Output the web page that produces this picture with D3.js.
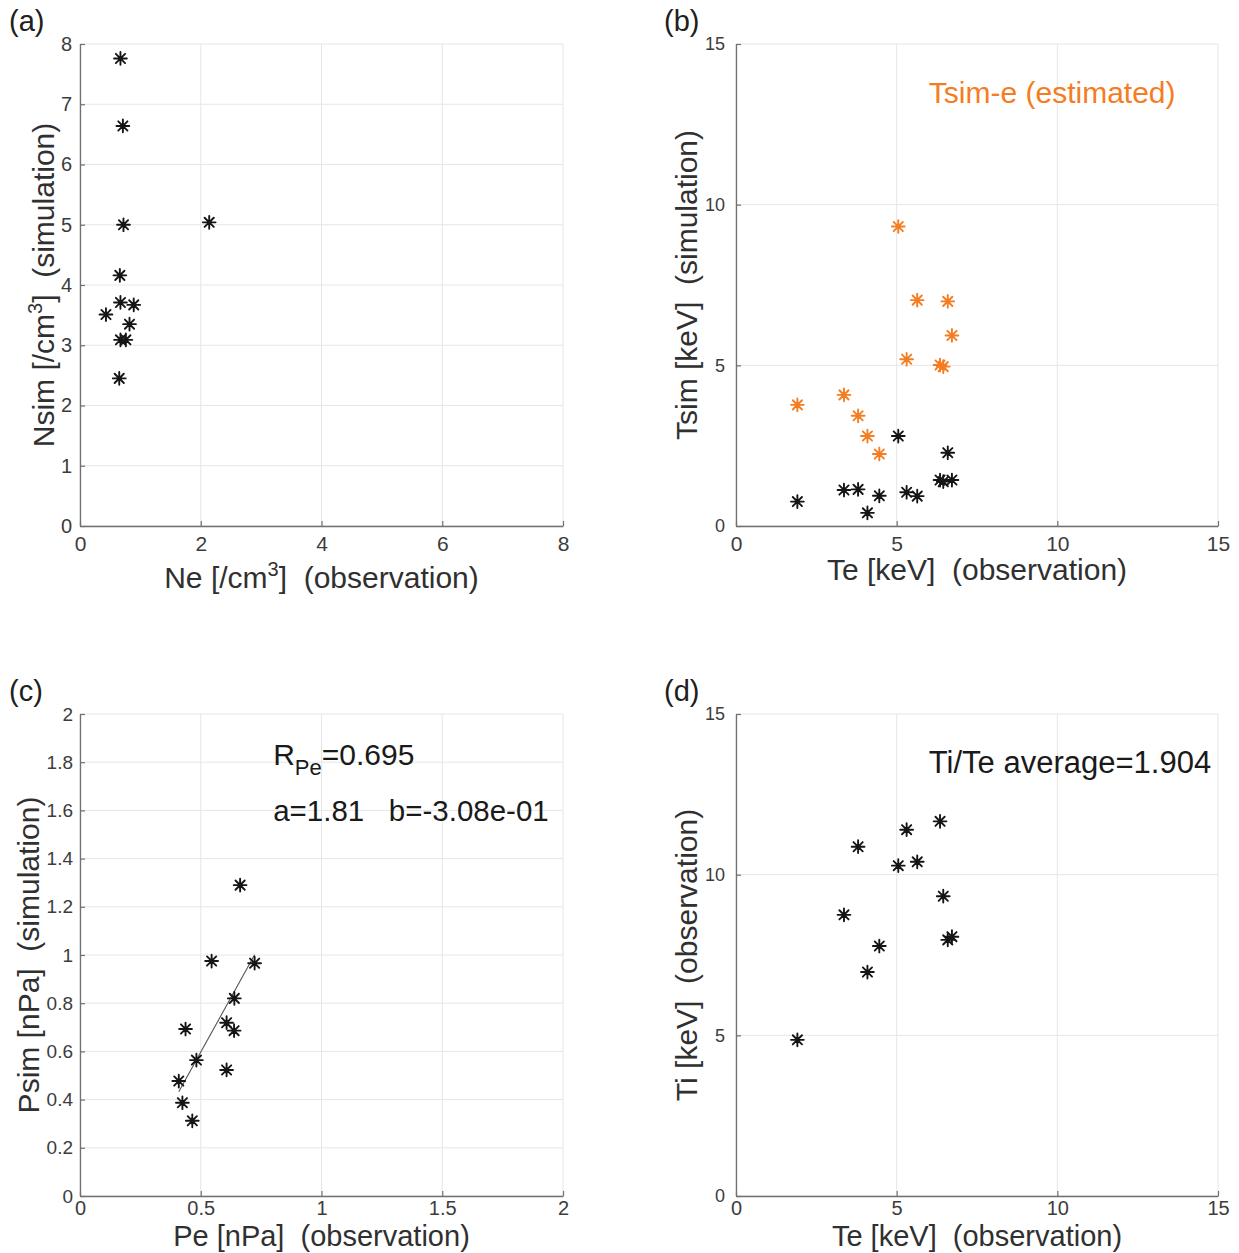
<!DOCTYPE html>
<html>
<head>
<meta charset="utf-8">
<script src="https://cdn.jsdelivr.net/npm/d3@7"></script>
<style>
  body { margin: 0; background: #fff; }
  svg { display: block; }
  text { font-family: "Liberation Sans", Arial, sans-serif; white-space: pre; }
</style>
</head>
<body>
<svg id="fig" width="1239" height="1253"></svg>
<script>
// ---- (a) density: observation vs simulation ----
const neObs = [0.67, 0.71, 0.72, 2.14, 0.66, 0.67, 0.89, 0.43, 0.82, 0.67, 0.76, 0.65];
const nSim  = [7.76, 6.64, 5.00, 5.04, 4.16, 3.71, 3.67, 3.51, 3.35, 3.09, 3.09, 2.45];

// ---- (b) / (d) temperatures, ordered by observed Te ----
const teObs    = [1.91, 3.36, 3.80, 4.09, 4.46, 5.05, 5.31, 5.64, 6.35, 6.45, 6.59, 6.72];
const tSim     = [0.76, 1.12, 1.14, 0.41, 0.94, 2.80, 1.05, 0.93, 1.43, 1.38, 2.28, 1.43];
const tSimE    = [3.77, 4.08, 3.43, 2.80, 2.24, 9.32, 5.19, 7.03, 5.01, 4.96, 6.99, 5.93];
const tiObs    = [4.86, 8.75, 10.87, 6.97, 7.78, 10.28, 11.40, 10.40, 11.66, 9.33, 7.97, 8.07];

// ---- (c) pressure: observation vs simulation ----
const peObs = [0.663, 0.545, 0.723, 0.639, 0.607, 0.638, 0.437, 0.482, 0.607, 0.409, 0.424, 0.465];
const pSim  = [1.290, 0.975, 0.966, 0.820, 0.719, 0.686, 0.693, 0.564, 0.523, 0.477, 0.387, 0.312];

// linear fit Psim = a*Pe + b, correlation and Ti/Te ratio
const fitA = 1.81;
const fitB = -0.308;
const corrPe = 0.695;
const tiTeAverage = 1.904;

// tick values
const ticksNx = [0, 2, 4, 6, 8];
const ticksNy = [0, 1, 2, 3, 4, 5, 6, 7, 8];
const ticksT  = [0, 5, 10, 15];
const ticksPx = [0, 0.5, 1, 1.5, 2];
const ticksPy = [0, 0.2, 0.4, 0.6, 0.8, 1, 1.2, 1.4, 1.6, 1.8, 2];

const svg = d3.select("#fig");
const ORANGE = "#f47d22";
const INK = "#151515";

// eight-armed asterisk marker
function star(r) {
  const d = r * 0.72;
  return `M${-r},0H${r}M0,${-r}V${r}M${-d},${-d}L${d},${d}M${-d},${d}L${d},${-d}`;
}

function panel(cfg) {
  const g = svg.append("g");
  const x = d3.scaleLinear().domain(cfg.xDomain).range([cfg.left, cfg.right]);
  const y = d3.scaleLinear().domain(cfg.yDomain).range([cfg.bottom, cfg.top]);

  // grid
  g.append("g").selectAll("line").data(cfg.xTicks).join("line")
    .attr("x1", d => x(d)).attr("x2", d => x(d))
    .attr("y1", cfg.top).attr("y2", cfg.bottom)
    .attr("stroke", "#e6e6e6").attr("stroke-width", 1);
  g.append("g").selectAll("line").data(cfg.yTicks).join("line")
    .attr("y1", d => y(d)).attr("y2", d => y(d))
    .attr("x1", cfg.left).attr("x2", cfg.right)
    .attr("stroke", "#e6e6e6").attr("stroke-width", 1);

  // axes (ticks pointing inward)
  const ax = g.append("g").attr("transform", `translate(0,${cfg.bottom})`)
    .call(d3.axisBottom(x).tickValues(cfg.xTicks).tickFormat(d3.format("~g"))
      .tickSizeInner(-5).tickSizeOuter(0).tickPadding(cfg.xPad));
  const ay = g.append("g").attr("transform", `translate(${cfg.left},0)`)
    .call(d3.axisLeft(y).tickValues(cfg.yTicks).tickFormat(d3.format("~g"))
      .tickSizeInner(-5).tickSizeOuter(0).tickPadding(cfg.yPad));
  [ax, ay].forEach(a => {
    a.select(".domain").attr("stroke", "#707070").attr("stroke-width", 1.3);
    a.selectAll(".tick line").attr("stroke", "#707070").attr("stroke-width", 1.2);
  });
  ax.selectAll(".tick text").attr("font-size", cfg.xTickSize).attr("fill", "#3c3c3c")
    .attr("font-family", "Liberation Sans, Arial, sans-serif");
  ay.selectAll(".tick text").attr("font-size", cfg.yTickSize).attr("fill", "#3c3c3c")
    .attr("font-family", "Liberation Sans, Arial, sans-serif");

  // axis labels
  const xl = g.append("text")
    .attr("x", (cfg.left + cfg.right) / 2).attr("y", cfg.bottom + cfg.xLabelGap)
    .attr("text-anchor", "middle").attr("font-size", cfg.xLabelSize).attr("fill", "#303030");
  cfg.xLabel.forEach(p => {
    const t = xl.append("tspan").text(p.t);
    if (p.sup) t.attr("font-size", 20).attr("dy", -12);
    else if (p.after) t.attr("dy", 12);
  });
  const yl = g.append("text")
    .attr("transform", `translate(${cfg.yLabelX},${(cfg.top + cfg.bottom) / 2}) rotate(-90)`)
    .attr("text-anchor", "middle").attr("dy", "0.35em")
    .attr("font-size", 30).attr("fill", "#303030");
  cfg.yLabel.forEach(p => {
    const t = yl.append("tspan").text(p.t);
    if (p.sup) t.attr("font-size", 20).attr("dy", -12);
    else if (p.after) t.attr("dy", 12);
  });

  // panel tag
  svg.append("text").attr("x", cfg.tagX).attr("y", cfg.tagY)
    .attr("font-size", 29).attr("fill", "#202020").text(cfg.tag);

  return { g, x, y };
}

function stars(p, xs, ys, color) {
  p.g.append("g").selectAll("path").data(xs.map((v, i) => [v, ys[i]])).join("path")
    .attr("transform", d => `translate(${p.x(d[0])},${p.y(d[1])})`)
    .attr("d", star(6.4))
    .attr("fill", "none").attr("stroke", color).attr("stroke-width", 1.9)
    .attr("stroke-linecap", "round");
}

// (a)
const pa = panel({
  left: 80, right: 563, top: 44, bottom: 526,
  xDomain: [0, 8], yDomain: [0, 8], xTicks: ticksNx, yTicks: ticksNy,
  xTickSize: 21, yTickSize: 20, yPad: 8, xPad: 10,
  xLabelGap: 62, xLabelSize: 30, yLabelX: 43,
  xLabel: [{ t: "Ne [/cm" }, { t: "3", sup: true }, { t: "]  (observation)", after: true }],
  yLabel: [{ t: "Nsim [/cm" }, { t: "3", sup: true }, { t: "]  (simulation)", after: true }],
  tag: "(a)", tagX: 9, tagY: 31
});
stars(pa, neObs, nSim, INK);

// (b)
const pb = panel({
  left: 736, right: 1218, top: 44, bottom: 526,
  xDomain: [0, 15], yDomain: [0, 15], xTicks: ticksT, yTicks: ticksT,
  xTickSize: 21, yTickSize: 18, yPad: 11, xPad: 10,
  xLabelGap: 54, xLabelSize: 30, yLabelX: 686,
  xLabel: [{ t: "Te [keV]  (observation)" }],
  yLabel: [{ t: "Tsim [keV]  (simulation)" }],
  tag: "(b)", tagX: 664, tagY: 31
});
stars(pb, teObs, tSimE, ORANGE);
stars(pb, teObs, tSim, INK);
pb.g.append("text").attr("x", pb.x(6)).attr("y", pb.y(13.5)).attr("dy", "0.35em")
  .attr("font-size", 30).attr("fill", ORANGE).text("Tsim-e (estimated)");

// (c)
const pc = panel({
  left: 80, right: 563, top: 714, bottom: 1196,
  xDomain: [0, 2], yDomain: [0, 2], xTicks: ticksPx, yTicks: ticksPy,
  xTickSize: 20, yTickSize: 19, yPad: 7, xPad: 5,
  xLabelGap: 50, xLabelSize: 29, yLabelX: 28,
  xLabel: [{ t: "Pe [nPa]  (observation)" }],
  yLabel: [{ t: "Psim [nPa]  (simulation)" }],
  tag: "(c)", tagX: 9, tagY: 701
});
const peRange = d3.extent(peObs);
pc.g.append("path")
  .datum(peRange.map(v => [v, fitA * v + fitB]))
  .attr("d", d3.line().x(d => pc.x(d[0])).y(d => pc.y(d[1])))
  .attr("fill", "none").attr("stroke", "#555").attr("stroke-width", 1.1);
stars(pc, peObs, pSim, INK);
const rt = pc.g.append("text").attr("x", pc.x(0.8)).attr("y", pc.y(1.8)).attr("dy", "0.1em")
  .attr("font-size", 30).attr("fill", "#1a1a1a");
rt.append("tspan").text("R");
rt.append("tspan").attr("font-size", 22).attr("dy", 10).text("Pe");
rt.append("tspan").attr("dy", -10).text("=" + corrPe.toFixed(3));
pc.g.append("text").attr("x", pc.x(0.8)).attr("y", pc.y(1.6)).attr("dy", "0.35em")
  .attr("font-size", 29.5).attr("fill", "#1a1a1a")
  .text(`a=${fitA.toFixed(2)}   b=${fitB.toExponential(2).replace(/e([+-])(\d)$/, "e$10$2")}`);

// (d)
const pd = panel({
  left: 736, right: 1218, top: 714, bottom: 1196,
  xDomain: [0, 15], yDomain: [0, 15], xTicks: ticksT, yTicks: ticksT,
  xTickSize: 20, yTickSize: 18, yPad: 11, xPad: 5,
  xLabelGap: 50, xLabelSize: 29, yLabelX: 686,
  xLabel: [{ t: "Te [keV]  (observation)" }],
  yLabel: [{ t: "Ti [keV]  (observation)" }],
  tag: "(d)", tagX: 664, tagY: 701
});
stars(pd, teObs, tiObs, INK);
pd.g.append("text").attr("x", pd.x(6)).attr("y", pd.y(13.5)).attr("dy", "0.35em")
  .attr("font-size", 31).attr("fill", "#1a1a1a").text(`Ti/Te average=${tiTeAverage.toFixed(3)}`);
</script>
</body>
</html>
